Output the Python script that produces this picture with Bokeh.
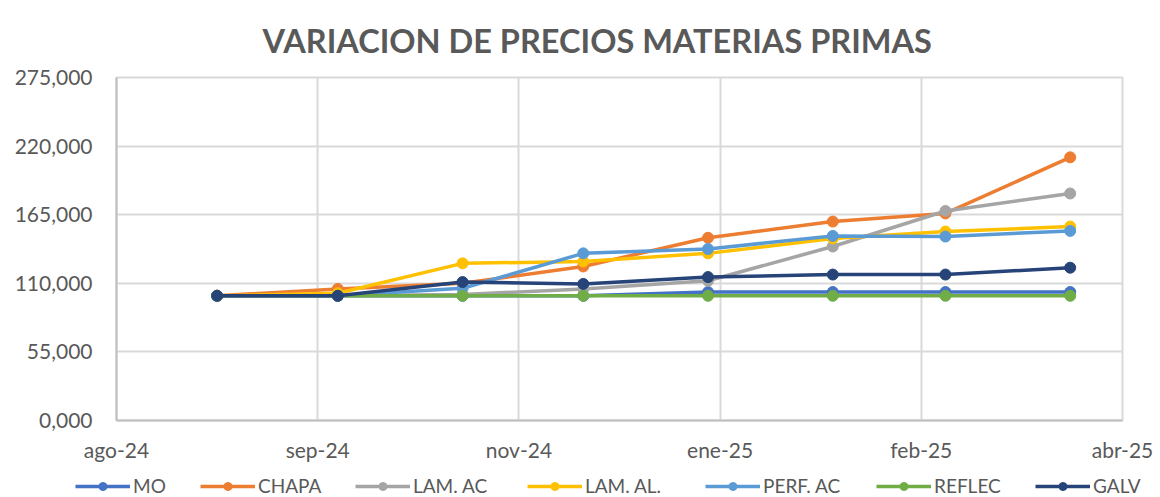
import pandas as pd
from bokeh.plotting import figure
from bokeh.models import ColumnDataSource, FixedTicker, Legend, LegendItem, Title, Range1d
from bokeh.embed import file_html
from bokeh.resources import INLINE

# ---------------- data ----------------
title_text = "VARIACION DE PRECIOS MATERIAS PRIMAS"
dates = ["2024-09-01", "2024-10-01", "2024-11-01", "2024-12-01",
         "2025-01-01", "2025-02-01", "2025-03-01", "2025-04-01"]
axis_start = "2024-08-07"
axis_step_days = 50
x_tick_labels = ["ago-24", "sep-24", "nov-24", "ene-25", "feb-25", "abr-25"]
y_ticks = [0, 55, 110, 165, 220, 275]
y_tick_labels = ["0,000", "55,000", "110,000", "165,000", "220,000", "275,000"]

series_names = ["MO", "CHAPA", "LAM. AC", "LAM. AL.", "PERF. AC", "REFLEC", "GALV"]
mo      = [100, 100, 100, 100, 103, 103, 103, 103]
chapa   = [100, 105.5, 110, 123.5, 146.5, 159.5, 166, 211]
lam_ac  = [100, 100, 101, 105.5, 112, 139.5, 168, 182]
lam_al  = [100, 102, 126, 127.5, 134, 146, 151.5, 155.5]
perf_ac = [100, 100, 106, 134, 137.5, 148, 147.5, 152]
reflec  = [100, 100, 100, 100, 100, 100, 100, 100]
galv    = [100, 100, 111, 109.5, 115, 117, 117, 122.5]
series_values = [mo, chapa, lam_ac, lam_al, perf_ac, reflec, galv]
colors = ["#4472C4", "#ED7D31", "#A5A5A5", "#FFC000", "#5B9BD5", "#70AD47", "#264478"]

# ---------------- build ----------------
start = pd.Timestamp(axis_start)
x_days = [(pd.Timestamp(d) - start).days for d in dates]
x_ticks = [i * axis_step_days for i in range(len(x_tick_labels))]

src = {"x": x_days}
for i, vals in enumerate(series_values):
    src[f"s{i}"] = vals
source = ColumnDataSource(src)

FONT = "Lato"
TXT = "#595959"
GRID = "#d9d9d9"
W = 1160
H_MAIN = 468
H_LEG = 29

p = figure(width=W, height=H_MAIN, output_backend="svg", toolbar_location=None,
           x_range=Range1d(x_ticks[0], x_ticks[-1]), y_range=Range1d(y_ticks[0], y_ticks[-1]),
           min_border_left=116, min_border_right=38, min_border_top=75, min_border_bottom=48)
p.background_fill_color = "white"
p.border_fill_color = "white"
p.outline_line_color = GRID
p.outline_line_width = 2

p.xaxis.ticker = FixedTicker(ticks=x_ticks)
p.xaxis.major_label_overrides = {t: l for t, l in zip(x_ticks, x_tick_labels)}
p.yaxis.ticker = FixedTicker(ticks=y_ticks)
p.yaxis.major_label_overrides = {t: l for t, l in zip(y_ticks, y_tick_labels)}
for ax in (p.xaxis[0], p.yaxis[0]):
    ax.axis_line_color = "#bfbfbf"
    ax.axis_line_width = 2
    ax.major_tick_line_color = None
    ax.minor_tick_line_color = None
    ax.major_label_text_font = FONT
    ax.major_label_text_font_size = "21px"
    ax.major_label_text_color = TXT
p.xaxis.major_label_standoff = 10
p.yaxis.major_label_standoff = 18

p.xgrid.ticker = FixedTicker(ticks=x_ticks)
p.ygrid.ticker = FixedTicker(ticks=y_ticks)
for g in (p.xgrid[0], p.ygrid[0]):
    g.grid_line_color = GRID
    g.grid_line_width = 2

for i, c in enumerate(colors):
    p.line("x", f"s{i}", source=source, line_width=3.5, line_color=c)
    p.scatter("x", f"s{i}", source=source, size=11, fill_color=c, line_color=c)

t = Title(text=title_text, align="left", offset=146, standoff=36,
          text_font=FONT, text_font_size="32.5px", text_font_style="bold", text_color=TXT)
p.add_layout(t, "above")

# ---------------- legend strip (separate root, frame = whole canvas) ----------------
p2 = figure(width=W, height=H_LEG, output_backend="svg", toolbar_location=None,
            x_range=Range1d(-10, -9), y_range=Range1d(-10, -9),
            x_axis_location=None, y_axis_location=None,
            min_border_left=0, min_border_right=0, min_border_top=0, min_border_bottom=0)
p2.grid.visible = False
p2.outline_line_color = None
p2.background_fill_color = "white"
p2.border_fill_color = "white"

items = []
for i, (name, c) in enumerate(zip(series_names, colors)):
    l = p2.line("x", f"s{i}", source=source, line_width=3.5, line_color=c)
    s = p2.scatter("x", f"s{i}", source=source, size=11, fill_color=c, line_color=c)
    items.append(LegendItem(label=name, renderers=[l, s]))

legend_left = [75, 200, 355, 527, 705, 876, 1035]
for item, lx in zip(items, legend_left):
    lg = Legend(items=[item], location=(lx, 0), orientation="horizontal",
                glyph_width=55, glyph_height=20, label_standoff=3,
                label_text_font=FONT, label_text_font_size="19px", label_text_color=TXT,
                padding=0, margin=0, border_line_color=None, background_fill_alpha=0)
    p2.add_layout(lg, "center")

open("out.html", "w").write(file_html([p, p2], INLINE))
